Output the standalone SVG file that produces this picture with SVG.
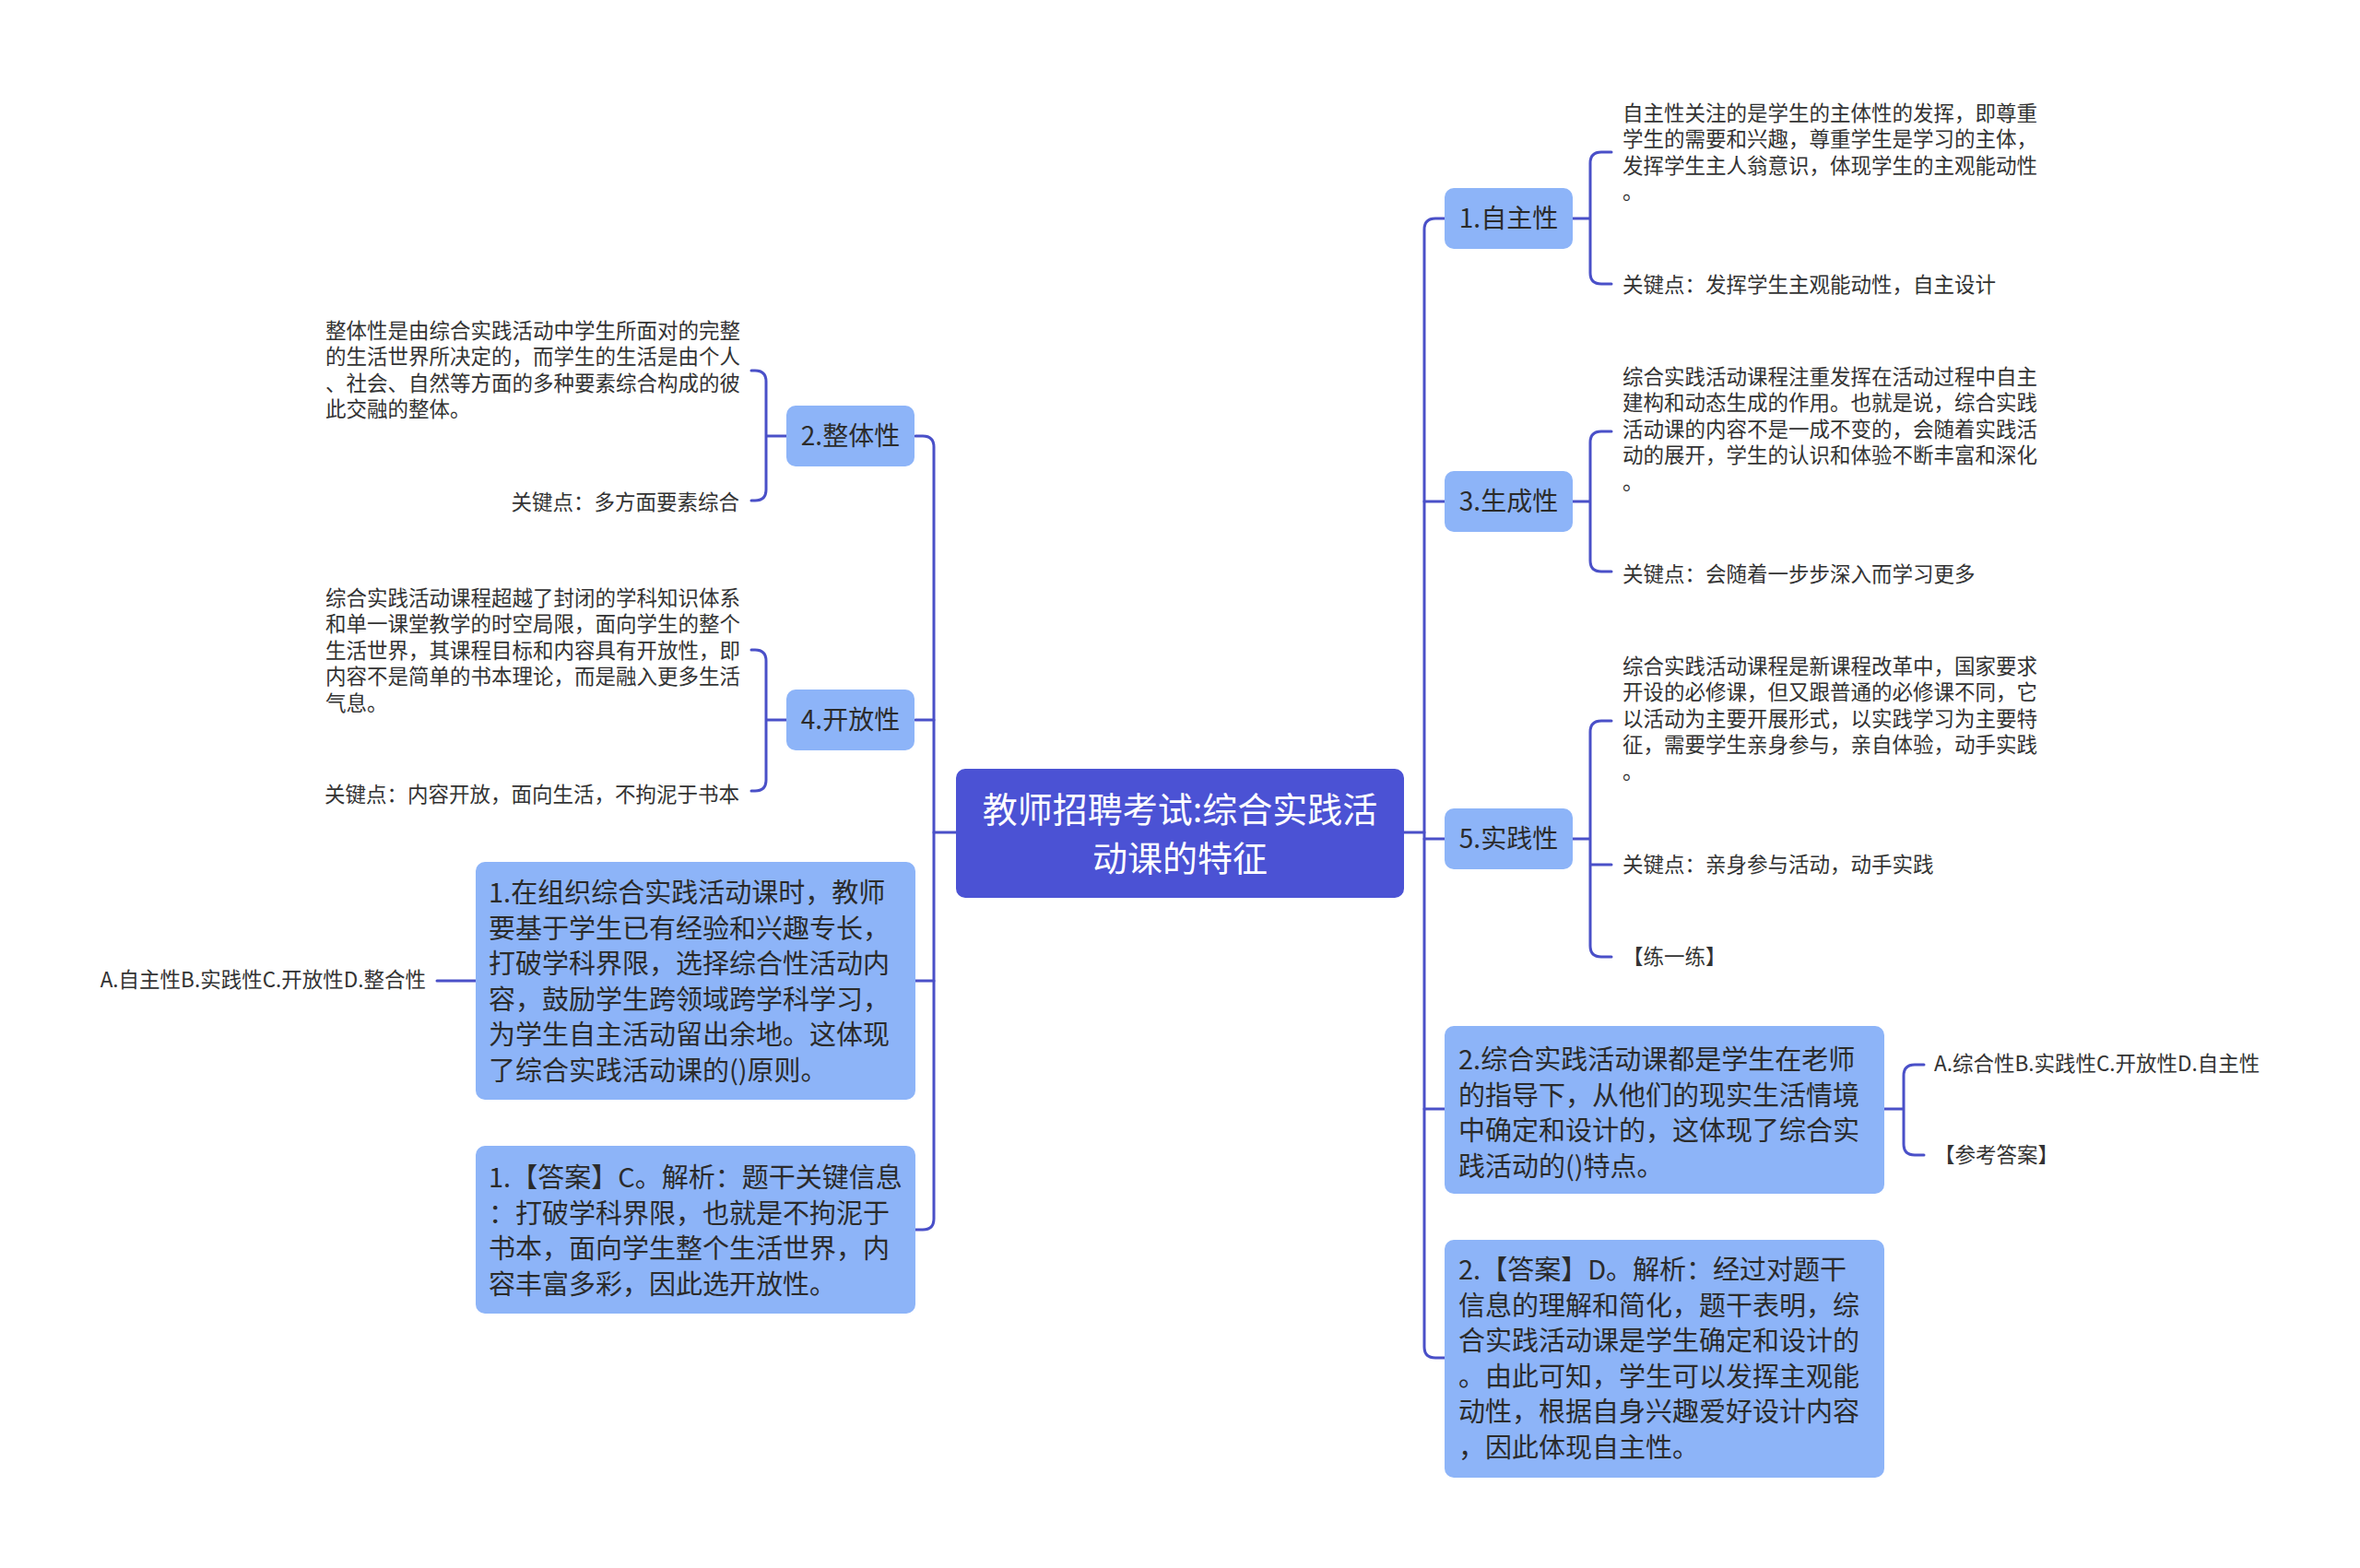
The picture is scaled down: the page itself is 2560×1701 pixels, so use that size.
<svg xmlns="http://www.w3.org/2000/svg" width="2560" height="1701" viewBox="0 0 2560 1701">
<style>
.bg{fill:#ffffff}
.conn{fill:none;stroke:#4a50c8;stroke-width:3;stroke-linecap:round;stroke-linejoin:round}
.root{fill:#4b52d4}
.node{fill:#8db4f8}
.rt{font-family:"Noto Sans CJK SC",sans-serif;font-size:38px;fill:#ffffff;text-anchor:middle}
.nt{font-family:"Noto Sans CJK SC",sans-serif;font-size:28px;fill:#2b2b2b;text-anchor:middle}
.bt{font-family:"Noto Sans CJK SC",sans-serif;font-size:29px;fill:#2b2b2b}
.lt{font-family:"Noto Sans CJK SC",sans-serif;font-size:22.5px;fill:#333333}
.end{text-anchor:end}
</style>
<rect class="bg" x="0" y="0" width="2560" height="1701"/>
<g id="connectors">
  <path class="conn" d="M1523,903 H1545"/>
  <path class="conn" d="M1567,237 H1557 Q1545,237 1545,249 V1461 Q1545,1473 1557,1473 H1567"/>
  <path class="conn" d="M1545,544 H1567 M1545,910 H1567 M1545,1203 H1567"/>
  <path class="conn" d="M1037,903 H1013"/>
  <path class="conn" d="M993,473 H1001 Q1013,473 1013,485 V1322 Q1013,1334 1001,1334 H993"/>
  <path class="conn" d="M1013,781 H993 M1013,1064 H993"/>
  <path class="conn" d="M1706,237 H1725 M1748,165 H1737 Q1725,165 1725,177 V296 Q1725,308 1737,308 H1748"/>
  <path class="conn" d="M1706,544 H1725 M1748,468 H1737 Q1725,468 1725,480 V608 Q1725,620 1737,620 H1748"/>
  <path class="conn" d="M1706,910 H1725 M1748,782 H1737 Q1725,782 1725,794 V1026 Q1725,1038 1737,1038 H1748 M1725,938 H1748"/>
  <path class="conn" d="M2044,1203 H2065 M2087,1155 H2077 Q2065,1155 2065,1167 V1241 Q2065,1253 2077,1253 H2087"/>
  <path class="conn" d="M853,473 H831 M815,402 H819 Q831,402 831,414 V531 Q831,543 819,543 H815"/>
  <path class="conn" d="M853,781 H831 M815,705 H819 Q831,705 831,717 V846 Q831,858 819,858 H815"/>
  <path class="conn" d="M516,1064 H474"/>
</g>
<g id="root">
  <rect class="root" x="1037" y="834" width="486" height="140" rx="10"/>
  <text class="rt" x="1280" y="891.5">教师招聘考试:综合实践活</text>
  <text class="rt" x="1280" y="944.5">动课的特征</text>
</g>
<g id="n1">
  <rect class="node" x="1567" y="204" width="139" height="66" rx="10"/>
  <text class="nt" x="1636.5" y="247">1.自主性</text>
</g>
<g id="n1a">
  <text class="lt" x="1760" y="130.5">自主性关注的是学生的主体性的发挥，即尊重</text>
  <text class="lt" x="1760" y="159">学生的需要和兴趣，尊重学生是学习的主体，</text>
  <text class="lt" x="1760" y="187.5">发挥学生主人翁意识，体现学生的主观能动性</text>
  <text class="lt" x="1760" y="216">。</text>
</g>
<g id="n1b"><text class="lt" x="1760" y="317">关键点：发挥学生主观能动性，自主设计</text></g>
<g id="n3">
  <rect class="node" x="1567" y="511" width="139" height="66" rx="10"/>
  <text class="nt" x="1636.5" y="554">3.生成性</text>
</g>
<g id="n3a">
  <text class="lt" x="1760" y="416.5">综合实践活动课程注重发挥在活动过程中自主</text>
  <text class="lt" x="1760" y="445">建构和动态生成的作用。也就是说，综合实践</text>
  <text class="lt" x="1760" y="473.5">活动课的内容不是一成不变的，会随着实践活</text>
  <text class="lt" x="1760" y="502">动的展开，学生的认识和体验不断丰富和深化</text>
  <text class="lt" x="1760" y="530.5">。</text>
</g>
<g id="n3b"><text class="lt" x="1760" y="630.5">关键点：会随着一步步深入而学习更多</text></g>
<g id="n5">
  <rect class="node" x="1567" y="877" width="139" height="66" rx="10"/>
  <text class="nt" x="1636.5" y="920">5.实践性</text>
</g>
<g id="n5a">
  <text class="lt" x="1760" y="730.5">综合实践活动课程是新课程改革中，国家要求</text>
  <text class="lt" x="1760" y="759">开设的必修课，但又跟普通的必修课不同，它</text>
  <text class="lt" x="1760" y="787.5">以活动为主要开展形式，以实践学习为主要特</text>
  <text class="lt" x="1760" y="816">征，需要学生亲身参与，亲自体验，动手实践</text>
  <text class="lt" x="1760" y="844.5">。</text>
</g>
<g id="n5b"><text class="lt" x="1760" y="945.5">关键点：亲身参与活动，动手实践</text></g>
<g id="n5c"><text class="lt" x="1760" y="1046">【练一练】</text></g>
<g id="q2">
  <rect class="node" x="1567" y="1113" width="477" height="182" rx="10"/>
  <text class="bt" x="1582" y="1160">2.综合实践活动课都是学生在老师</text>
  <text class="bt" x="1582" y="1198.5">的指导下，从他们的现实生活情境</text>
  <text class="bt" x="1582" y="1237">中确定和设计的，这体现了综合实</text>
  <text class="bt" x="1582" y="1275.5">践活动的()特点。</text>
</g>
<g id="q2a"><text class="lt" x="2098" y="1162">A.综合性B.实践性C.开放性D.自主性</text></g>
<g id="q2b"><text class="lt" x="2098" y="1261">【参考答案】</text></g>
<g id="a2">
  <rect class="node" x="1567" y="1345" width="477" height="258" rx="10"/>
  <text class="bt" x="1582" y="1388">2.【答案】D。解析：经过对题干</text>
  <text class="bt" x="1582" y="1426.5">信息的理解和简化，题干表明，综</text>
  <text class="bt" x="1582" y="1465">合实践活动课是学生确定和设计的</text>
  <text class="bt" x="1582" y="1503.5">。由此可知，学生可以发挥主观能</text>
  <text class="bt" x="1582" y="1542">动性，根据自身兴趣爱好设计内容</text>
  <text class="bt" x="1582" y="1580.5">，因此体现自主性。</text>
</g>
<g id="n2">
  <rect class="node" x="853" y="440" width="139" height="66" rx="10"/>
  <text class="nt" x="922.5" y="483">2.整体性</text>
</g>
<g id="n2a">
  <text class="lt" x="353" y="366.5">整体性是由综合实践活动中学生所面对的完整</text>
  <text class="lt" x="353" y="395">的生活世界所决定的，而学生的生活是由个人</text>
  <text class="lt" x="353" y="423.5">、社会、自然等方面的多种要素综合构成的彼</text>
  <text class="lt" x="353" y="452">此交融的整体。</text>
</g>
<g id="n2b"><text class="lt end" x="802" y="553">关键点：多方面要素综合</text></g>
<g id="n4">
  <rect class="node" x="853" y="748" width="139" height="66" rx="10"/>
  <text class="nt" x="922.5" y="791">4.开放性</text>
</g>
<g id="n4a">
  <text class="lt" x="353" y="656.5">综合实践活动课程超越了封闭的学科知识体系</text>
  <text class="lt" x="353" y="685">和单一课堂教学的时空局限，面向学生的整个</text>
  <text class="lt" x="353" y="713.5">生活世界，其课程目标和内容具有开放性，即</text>
  <text class="lt" x="353" y="742">内容不是简单的书本理论，而是融入更多生活</text>
  <text class="lt" x="353" y="770.5">气息。</text>
</g>
<g id="n4b"><text class="lt end" x="802" y="869.5">关键点：内容开放，面向生活，不拘泥于书本</text></g>
<g id="q1">
  <rect class="node" x="516" y="935" width="477" height="258" rx="10"/>
  <text class="bt" x="530" y="979">1.在组织综合实践活动课时，教师</text>
  <text class="bt" x="530" y="1017.5">要基于学生已有经验和兴趣专长，</text>
  <text class="bt" x="530" y="1056">打破学科界限，选择综合性活动内</text>
  <text class="bt" x="530" y="1094.5">容，鼓励学生跨领域跨学科学习，</text>
  <text class="bt" x="530" y="1133">为学生自主活动留出余地。这体现</text>
  <text class="bt" x="530" y="1171.5">了综合实践活动课的()原则。</text>
</g>
<g id="q1a"><text class="lt end" x="462" y="1071">A.自主性B.实践性C.开放性D.整合性</text></g>
<g id="a1">
  <rect class="node" x="516" y="1243" width="477" height="182" rx="10"/>
  <text class="bt" x="530" y="1288">1.【答案】C。解析：题干关键信息</text>
  <text class="bt" x="530" y="1326.5">：打破学科界限，也就是不拘泥于</text>
  <text class="bt" x="530" y="1365">书本，面向学生整个生活世界，内</text>
  <text class="bt" x="530" y="1403.5">容丰富多彩，因此选开放性。</text>
</g>
</svg>
